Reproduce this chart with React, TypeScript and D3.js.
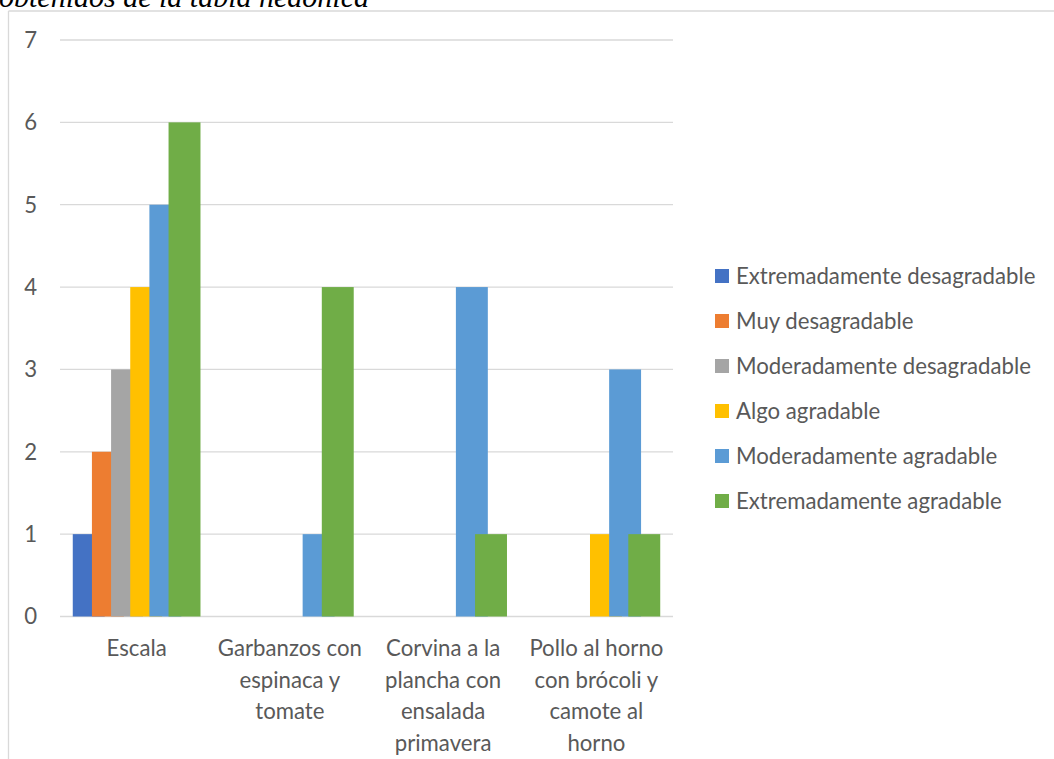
import React from "react";
import * as d3 from "d3";

const categories: string[][] = [
  ["Escala"],
  ["Garbanzos con", "espinaca y", "tomate"],
  ["Corvina a la", "plancha con", "ensalada", "primavera"],
  ["Pollo al horno", "con brócoli y", "camote al", "horno"],
];
const seriesNames = [
  "Extremadamente desagradable",
  "Muy desagradable",
  "Moderadamente desagradable",
  "Algo agradable",
  "Moderadamente agradable",
  "Extremadamente agradable",
];
const seriesColors = ["#4472C4", "#ED7D31", "#A5A5A5", "#FFC000", "#5B9BD5", "#70AD47"];
// values[series][category]
const extremDesag = [1, 0, 0, 0];
const muyDesag = [2, 0, 0, 0];
const modDesag = [3, 0, 0, 0];
const algoAgrad = [4, 0, 0, 1];
const modAgrad = [5, 1, 4, 3];
const extremAgrad = [6, 4, 1, 1];
const seriesValues = [extremDesag, muyDesag, modDesag, algoAgrad, modAgrad, extremAgrad];
const yTicks = [0, 1, 2, 3, 4, 5, 6, 7];
const titleText = "obtenidos de la tabla hedónica";

const W = 1054;
const H = 759;
const FONT = "Lato, 'Open Sans', sans-serif";
const TXT = "#595959";
const FS = 22.2;

export default function App() {
  const plotL = 60, plotR = 673, plotT = 40, plotB = 616.5;
  const x = d3.scaleBand<number>().domain(d3.range(categories.length)).range([plotL, plotR]).padding(0);
  const y = d3.scaleLinear().domain([0, 7]).range([plotB, plotT]);
  const band = x.bandwidth();
  const overlapStep = 0.6;
  const gapRatio = 0.8;
  const n = seriesNames.length;
  const bw = band / (1 + overlapStep * (n - 1) + gapRatio);
  const step = bw * overlapStep;
  const offset = (bw * gapRatio) / 2;

  return (
    <svg width={W} height={H} style={{ position: "absolute", left: 0, top: 0, background: "#fff" }}>
      <rect x={0} y={0} width={W} height={H} fill="#fff" />
      <text x={-1} y={7} fontFamily="'Liberation Serif', 'Times New Roman', serif" fontStyle="italic" fontSize={30} fill="#000">
        {titleText}
      </text>
      {/* chart frame */}
      <line x1={8.5} y1={11} x2={8.5} y2={H + 2} stroke="#d9d9d9" strokeWidth={1.3} />
      <line x1={8.5} y1={11} x2={W + 2} y2={11} stroke="#d9d9d9" strokeWidth={1.3} />
      {/* gridlines */}
      {yTicks.map((t) => (
        <g key={t}>
          <line x1={plotL} x2={plotR} y1={y(t)} y2={y(t)} stroke="#d9d9d9" strokeWidth={1.3} />
          <text x={37} y={y(t)} dy="0.36em" textAnchor="end" fontFamily={FONT} fontSize={FS} fill={TXT}>
            {t}
          </text>
        </g>
      ))}
      {/* bars */}
      {seriesValues.map((vals, si) =>
        vals.map((v, ci) =>
          v > 0 ? (
            <rect
              key={`${si}-${ci}`}
              x={(x(ci) as number) + offset + si * step}
              y={y(v)}
              width={bw}
              height={y(0) - y(v)}
              fill={seriesColors[si]}
            />
          ) : null
        )
      )}
      {/* category labels */}
      {categories.map((lines, ci) => (
        <text key={ci} textAnchor="middle" fontFamily={FONT} fontSize={FS} fill={TXT}>
          {lines.map((ln, li) => (
            <tspan key={li} x={(x(ci) as number) + band / 2} y={648 + li * 31.7} dy="0.36em">
              {ln}
            </tspan>
          ))}
        </text>
      ))}
      {/* legend */}
      {seriesNames.map((name, si) => (
        <g key={name} transform={`translate(715, ${276 + si * 45})`}>
          <rect x={0} y={-7} width={14} height={14} fill={seriesColors[si]} />
          <text x={21} y={0} dy="0.36em" fontFamily={FONT} fontSize={FS} fill={TXT}>
            {name}
          </text>
        </g>
      ))}
    </svg>
  );
}
